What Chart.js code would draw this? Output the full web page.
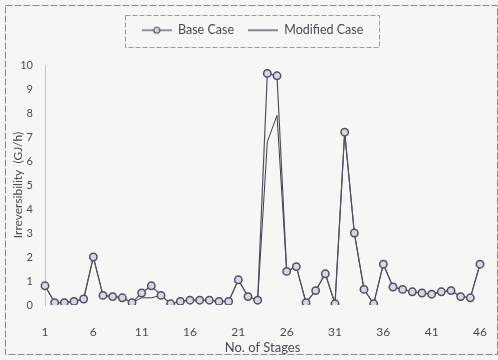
<!DOCTYPE html>
<html>
<head>
<meta charset="utf-8">
<script src="https://cdn.jsdelivr.net/npm/chart.js@4/dist/chart.umd.min.js"></script>
<style>
  html, body { margin: 0; padding: 0; background: #f6f6f4; }
  #wrap { width: 498px; height: 360px; }
</style>
</head>
<body>
<div id="wrap"><canvas id="chart" width="498" height="360"></canvas></div>
<script>
const stages = ['1','2','3','4','5','6','7','8','9','10','11','12','13','14','15','16','17','18','19','20',
  '21','22','23','24','25','26','27','28','29','30','31','32','33','34','35','36','37','38','39','40',
  '41','42','43','44','45','46'];
const tickLabels = ['1','6','11','16','21','26','31','36','41','46'];
const yTicks = [0,1,2,3,4,5,6,7,8,9,10];

const baseCase = [0.8,0.1,0.1,0.15,0.25,2.0,0.4,0.35,0.3,0.1,0.5,0.8,0.4,0.05,0.15,0.2,0.2,0.2,0.15,0.15,
  1.05,0.35,0.2,9.65,9.55,1.4,1.6,0.1,0.6,1.3,0.05,7.2,3.0,0.65,0.05,1.7,0.75,0.65,0.55,0.5,
  0.45,0.55,0.6,0.35,0.3,1.7];
const modifiedCase = [0.8,0.1,0.1,0.15,0.25,2.0,0.4,0.35,0.3,0.1,0.3,0.3,0.4,0.05,0.15,0.2,0.2,0.2,0.15,0.15,
  1.05,0.35,0.2,6.8,7.9,1.4,1.6,0.1,0.6,1.3,0.05,7.2,3.0,0.65,0.05,1.7,0.75,0.65,0.55,0.5,
  0.45,0.55,0.6,0.35,0.3,1.7];

const textColor = '#4a4a52';
const lineColor = '#4e5062';
const markerFill = '#d6d7e0';

// small icons for the legend
function lineMarkerIcon() {
  const c = document.createElement('canvas');
  c.width = 30; c.height = 10;
  const g = c.getContext('2d');
  g.strokeStyle = lineColor; g.lineWidth = 1.2;
  g.beginPath(); g.moveTo(0, 5); g.lineTo(30, 5); g.stroke();
  g.fillStyle = markerFill;
  g.beginPath(); g.arc(15, 5, 3, 0, Math.PI * 2); g.fill(); g.stroke();
  return c;
}
function lineIcon() {
  const c = document.createElement('canvas');
  c.width = 30; c.height = 10;
  const g = c.getContext('2d');
  g.strokeStyle = '#3c3c48'; g.lineWidth = 1.2;
  g.beginPath(); g.moveTo(0, 5); g.lineTo(30, 5); g.stroke();
  return c;
}

const framePlugin = {
  id: 'frame',
  beforeLayout(chart) {
    const lg = chart.legend;
    if (lg && !lg._tallFit) {
      const fit = lg.fit;
      lg.fit = function () { fit.call(this); this.height = 55; };
      lg._tallFit = true;
    }
  },
  afterLayout(chart) {
    // nudge the legend a little to the right
    chart.legend.left += 7;
    chart.legend.right += 7;
  },
  beforeDraw(chart) {
    const ctx = chart.ctx;
    ctx.save();
    ctx.fillStyle = '#f6f6f4';
    ctx.fillRect(0, 0, chart.width, chart.height);
    ctx.strokeStyle = '#8a8a8a';
    ctx.lineWidth = 1;
    ctx.setLineDash([7, 2]);
    ctx.strokeRect(5.5, 5.5, 492, 349);
    ctx.restore();
  },
  afterDraw(chart) {
    const boxes = chart.legend.legendHitBoxes;
    if (!boxes || !boxes.length) return;
    let l = Infinity, r = -Infinity, t = Infinity, b = -Infinity;
    boxes.forEach(h => {
      l = Math.min(l, h.left); r = Math.max(r, h.left + h.width);
      t = Math.min(t, h.top); b = Math.max(b, h.top + h.height);
    });
    const ctx = chart.ctx;
    ctx.save();
    ctx.strokeStyle = '#9a9a9a';
    ctx.lineWidth = 1;
    ctx.setLineDash([5, 2]);
    ctx.strokeRect(Math.round(l - 17) + 0.5, Math.round(t - 9) + 0.5, Math.round(r - l + 32), Math.round(b - t + 19));
    ctx.restore();
  }
};

new Chart(document.getElementById('chart'), {
  type: 'line',
  data: {
    labels: stages,
    datasets: [{
      label: 'Base Case',
      data: baseCase,
      borderColor: lineColor,
      borderWidth: 1.2,
      pointRadius: 3.7,
      pointBorderWidth: 1.5,
      pointBackgroundColor: markerFill,
      pointBorderColor: lineColor,
      pointStyle: 'circle',
      tension: 0
    }, {
      label: 'Modified Case',
      data: modifiedCase,
      borderColor: '#3c3c48',
      borderWidth: 1,
      pointRadius: 0,
      tension: 0
    }]
  },
  options: {
    responsive: false,
    animation: false,
    layout: { padding: { left: 11, right: 18, top: 10, bottom: 4 } },
    scales: {
      x: {
        offset: false,
        afterFit: axis => {
          axis.height = 51;
          axis.paddingLeft = 0;
          axis.paddingRight = 0;
        },
        grid: { display: false, drawTicks: false },
        border: { display: false },
        ticks: {
          autoSkip: false,
          maxRotation: 0,
          padding: 20,
          color: textColor,
          font: { family: 'Lato', size: 12 },
          callback: function (value) {
            const lab = this.getLabelForValue(value);
            return tickLabels.includes(lab) ? lab : '';
          }
        },
        title: {
          display: true,
          text: 'No. of Stages',
          color: textColor,
          font: { family: 'Lato', size: 13 },
          padding: { top: 0, bottom: 0 }
        }
      },
      y: {
        min: 0,
        max: 10,
        afterFit: axis => { axis.width = 34; },
        afterBuildTicks: axis => { axis.ticks = yTicks.map(v => ({ value: v })); },
        grid: { display: false, drawTicks: false },
        border: { display: true, color: '#c4c4c4', dash: [2, 4] },
        ticks: {
          padding: 12,
          color: textColor,
          font: { family: 'Lato', size: 11 }
        },
        title: {
          display: true,
          text: 'Irreversibility  (GJ/h)',
          color: textColor,
          font: { family: 'Lato', size: 12 },
          padding: { top: 0, bottom: 0 }
        }
      }
    },
    plugins: {
      legend: {
        position: 'top',
        align: 'center',
        labels: {
          color: textColor,
          font: { family: 'Lato', size: 12.5 },
          usePointStyle: true,
          pointStyleWidth: 30,
          padding: 14,
          generateLabels: chart => chart.data.datasets.map((ds, i) => ({
            text: ds.label,
            pointStyle: i === 0 ? lineMarkerIcon() : lineIcon(),
            fontColor: textColor,
            strokeStyle: 'transparent',
            fillStyle: 'transparent',
            lineWidth: 0,
            datasetIndex: i
          }))
        }
      },
      tooltip: { enabled: false }
    }
  },
  plugins: [framePlugin]
});
</script>
</body>
</html>
